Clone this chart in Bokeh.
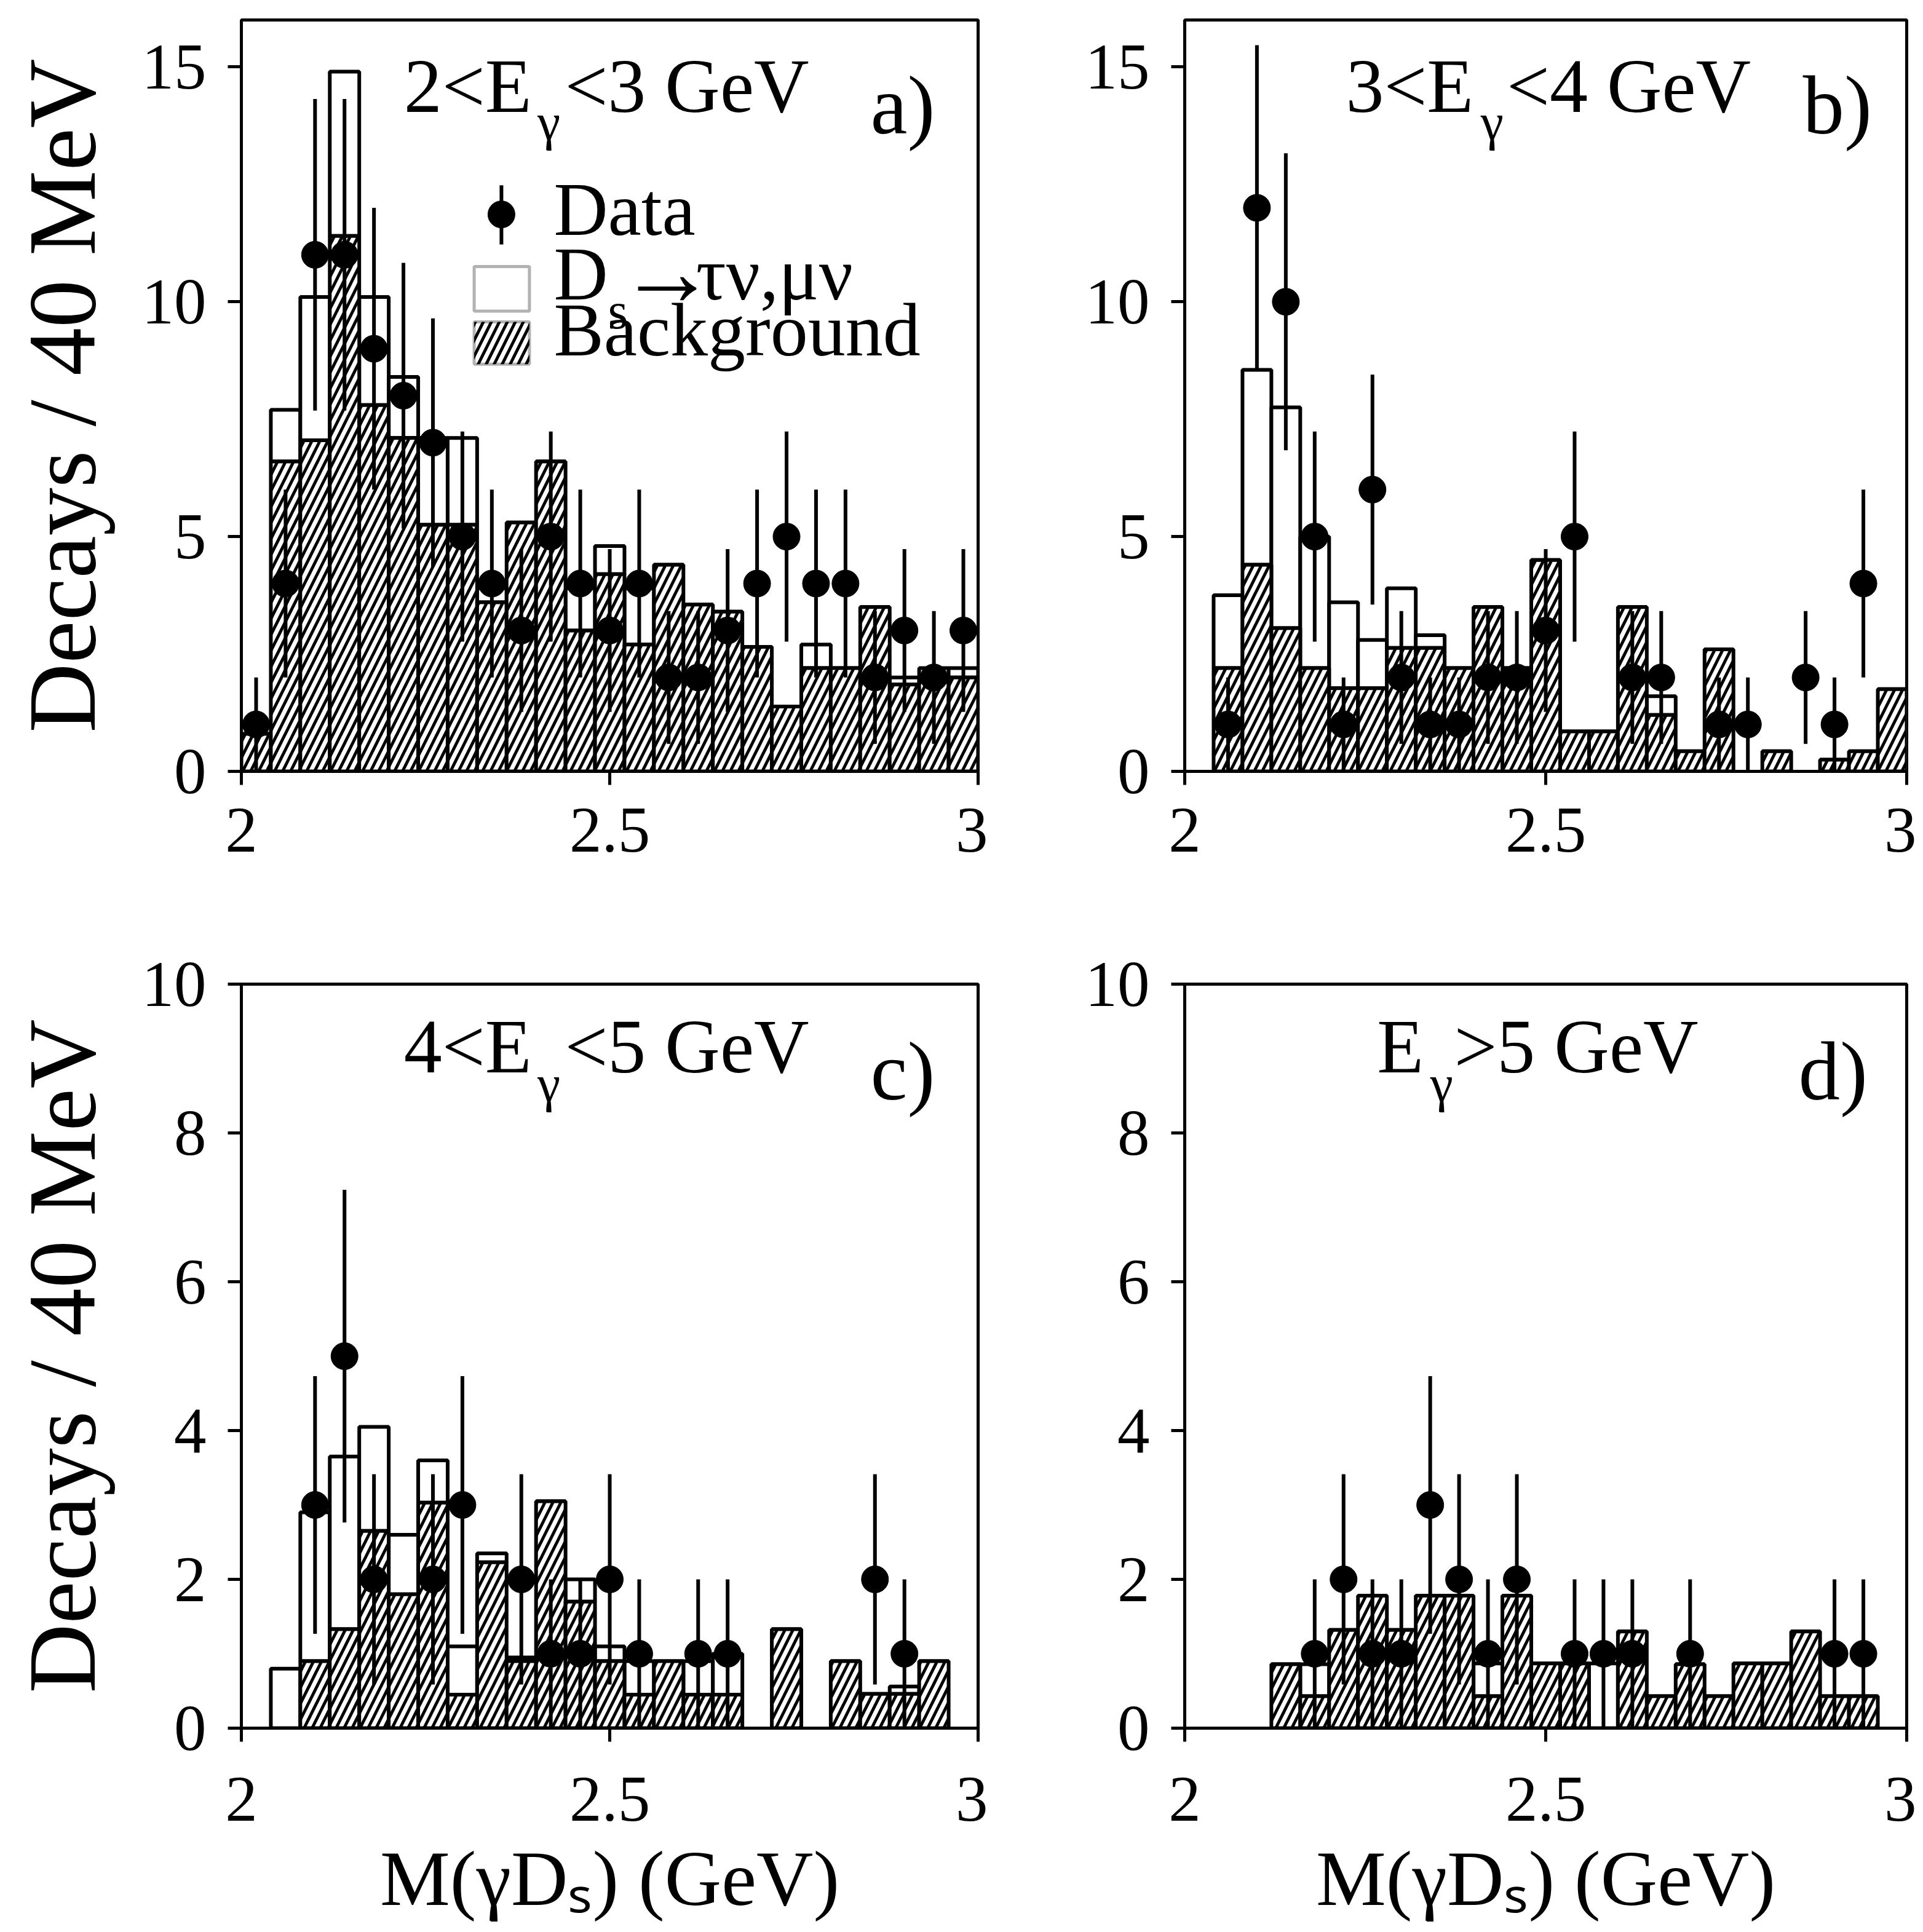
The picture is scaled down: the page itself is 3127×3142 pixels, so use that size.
import numpy as np
from bokeh.plotting import figure
from bokeh.models import Range1d, FixedTicker, Label, BoxAnnotation, ColumnDataSource
from bokeh.layouts import column, row
from bokeh.embed import file_html
from bokeh.resources import INLINE

# ---------------- data (40 MeV bins from 2.00 to 3.00 GeV) ----------------
bin_edges = [2.00, 2.04, 2.08, 2.12, 2.16, 2.20, 2.24, 2.28, 2.32, 2.36, 2.40, 2.44, 2.48,
             2.52, 2.56, 2.60, 2.64, 2.68, 2.72, 2.76, 2.80, 2.84, 2.88, 2.92, 2.96, 3.00]

# a) 2 < E_gamma < 3 GeV
a_data = [1, 4, 11, 11, 9, 8, 7, 5, 4, 3, 5, 4, 3, 4, 2, 2, 3, 4, 5, 4, 4, 2, 3, 2, 3]
a_total = [0.8, 7.7, 10.1, 14.9, 10.1, 8.4, 7.1, 7.1, 3.9, 5.3, 6.6, 3.9, 4.8, 3.9, 4.4,
           3.55, 3.4, 2.65, 1.38, 2.7, 2.2, 3.5, 2.0, 2.2, 2.2]
a_bkg = [0.8, 6.6, 7.05, 11.4, 7.8, 7.1, 5.25, 5.25, 3.6, 5.3, 6.6, 3.0, 4.2, 2.7, 4.4,
         3.55, 3.4, 2.65, 1.38, 2.2, 2.2, 3.5, 1.85, 1.9, 2.0]

# b) 3 < E_gamma < 4 GeV
b_data = [0, 1, 12, 10, 5, 1, 6, 2, 1, 1, 2, 2, 3, 5, 0, 2, 2, 0, 1, 1, 0, 2, 1, 4, 0]
b_total = [0, 3.75, 8.55, 7.75, 5.0, 3.6, 2.8, 3.9, 2.9, 2.2, 3.5, 2.2, 4.5, 0.85, 0.85,
           3.5, 1.6, 0.43, 2.6, 0, 0.43, 0, 0.25, 0.43, 1.75]
b_bkg = [0, 2.2, 4.4, 3.05, 2.2, 1.77, 1.77, 2.63, 2.63, 2.2, 3.5, 2.2, 4.5, 0.85, 0.85,
         3.5, 1.2, 0.43, 2.6, 0, 0.43, 0, 0.25, 0.43, 1.75]

# c) 4 < E_gamma < 5 GeV
c_data = [0, 0, 3, 5, 2, 0, 2, 3, 0, 2, 1, 1, 2, 1, 0, 1, 1, 0, 0, 0, 0, 2, 1, 0, 0]
c_total = [0, 0.8, 2.9, 3.65, 4.05, 2.6, 3.6, 1.1, 2.35, 0.95, 3.05, 2.0, 1.1, 0.9, 0.9,
           0.9, 1.0, 0, 1.33, 0, 0.9, 0.46, 0.56, 0.9, 0]
c_bkg = [0, 0, 0.9, 1.33, 2.65, 1.8, 3.03, 0.45, 2.23, 0.9, 3.05, 1.7, 0.9, 0.45, 0.9,
         0.45, 0.45, 0, 1.33, 0, 0.9, 0.46, 0.46, 0.9, 0]

# d) E_gamma > 5 GeV
d_data = [0, 0, 0, 0, 1, 2, 1, 1, 3, 2, 1, 2, 0, 1, 1, 1, 0, 1, 0, 0, 0, 0, 1, 1, 0]
d_total = [0, 0, 0, 0.86, 0.86, 1.32, 1.78, 1.32, 1.78, 1.78, 0.87, 1.78, 0.87, 0.87, 0.87,
           1.3, 0.43, 0.86, 0.43, 0.87, 0.87, 1.3, 0.43, 0.43, 0]
d_bkg = [0, 0, 0, 0.86, 0.43, 1.32, 1.78, 1.32, 1.78, 1.78, 0.43, 1.78, 0.87, 0.87, 0,
         1.3, 0.43, 0.86, 0.43, 0.87, 0.87, 1.3, 0.43, 0.43, 0]

# ticks and texts
x_tick_values = [2, 2.5, 3]
x_tick_labels = ["2", "2.5", "3"]
ab_y_ticks = [0, 5, 10, 15]
cd_y_ticks = [0, 2, 4, 6, 8, 10]
title_a = ("2<E", "γ", "<3 GeV")
title_b = ("3<E", "γ", "<4 GeV")
title_c = ("4<E", "γ", "<5 GeV")
title_d = ("E", "γ", ">5 GeV")
panel_letters = ["a)", "b)", "c)", "d)"]
y_label = "Decays / 40 MeV"
x_label = "M(γD\u209b) (GeV)"
legend_data_text = "Data"
legend_sig_parts = ("D", "s", "→", "τν,μν")
legend_bkg_text = "Background"

FONT = "Liberation Serif"
LW = 6
HATCH = dict(hatch_pattern="/", hatch_color="black", hatch_weight=5, hatch_scale=26)
BASE_SHIFT = 0.32   # empirical shift so that y is the alphabetic baseline


def add_text(p, x, y, text, size, ppu, align="left"):
    y_adj = y + BASE_SHIFT * size / ppu
    p.add_layout(Label(x=x, y=y_adj, text=text, text_font=FONT, text_font_size=f"{size}px",
                       text_align=align, text_baseline="alphabetic", text_color="black"))


def make_panel(counts, total, bkg, ymax, yticks, fw, fh, bl, br, bt, bb,
               show_ylabel, show_xlabel, xlab_standoff):
    p = figure(frame_width=fw, frame_height=fh, x_range=Range1d(2, 3), y_range=Range1d(0, ymax),
               output_backend="svg", toolbar_location=None,
               min_border_left=bl, min_border_right=br, min_border_top=bt, min_border_bottom=bb)
    p.grid.visible = False
    p.outline_line_color = "black"
    p.outline_line_width = 5
    p.outline_line_alpha = 1.0
    p.background_fill_color = "white"
    p.border_fill_color = "white"

    lo = np.array(bin_edges[:-1])
    hi = np.array(bin_edges[1:])
    tot = np.array(total, dtype=float)
    bk = np.array(bkg, dtype=float)
    n = np.array(counts, dtype=float)

    m = tot > 0
    p.quad(left="left", right="right", bottom="bottom", top="top",
           source=ColumnDataSource(dict(left=lo[m], right=hi[m], bottom=bk[m], top=tot[m])),
           fill_color="white", line_color="black", line_width=LW)
    mb = bk > 0
    p.quad(left="left", right="right", bottom=0, top="top",
           source=ColumnDataSource(dict(left=lo[mb], right=hi[mb], top=bk[mb])),
           fill_color="white", line_color="black", line_width=LW, **HATCH)

    centers = (lo + hi) / 2
    md = n > 0
    err = np.sqrt(n[md])
    p.segment(x0=centers[md], y0=n[md] - err, x1=centers[md], y1=n[md] + err,
              line_color="black", line_width=LW)
    p.scatter(centers[md], n[md], size=44, marker="circle", fill_color="black", line_color="black")

    p.xaxis.ticker = FixedTicker(ticks=x_tick_values)
    p.xaxis.major_label_overrides = dict(zip(x_tick_values, x_tick_labels))
    p.yaxis.ticker = FixedTicker(ticks=yticks)
    for ax in (p.xaxis[0], p.yaxis[0]):
        ax.axis_line_width = 5
        ax.axis_line_color = "black"
        ax.major_tick_line_width = 5
        ax.major_tick_line_color = "black"
        ax.major_tick_out = 22
        ax.major_tick_in = 0
        ax.minor_tick_out = 0
        ax.minor_tick_in = 0
        ax.major_label_text_font = FONT
        ax.major_label_text_font_size = "105px"
        ax.major_label_text_color = "black"
    p.xaxis.major_label_standoff = xlab_standoff
    p.yaxis.major_label_standoff = 35
    if show_ylabel:
        p.yaxis.axis_label = y_label
        p.yaxis.axis_label_text_font = FONT
        p.yaxis.axis_label_text_font_size = "156px"
        p.yaxis.axis_label_text_font_style = "normal"
        p.yaxis.axis_label_text_color = "black"
        p.yaxis.axis_label_standoff = 40
    if show_xlabel:
        p.xaxis.axis_label = x_label
        p.xaxis.axis_label_text_font = FONT
        p.xaxis.axis_label_text_font_size = "128px"
        p.xaxis.axis_label_text_font_style = "normal"
        p.xaxis.axis_label_text_color = "black"
        p.xaxis.axis_label_standoff = 20
    return p


def add_title(p, parts, x_end, x_sub, x_rest, y_main, y_sub, letter, x_letter, y_letter, ppu):
    add_text(p, x_end, y_main, parts[0], 124, ppu, "right")
    add_text(p, x_sub, y_sub, parts[1], 84, ppu, "left")
    add_text(p, x_rest, y_main, parts[2], 124, ppu, "left")
    add_text(p, x_letter, y_letter, letter, 135, ppu, "left")


# ---------------- panels ----------------
PPU_AB = 1222 / 16
PPU_CD = 1210 / 10
pa = make_panel(a_data, a_total, a_bkg, 16, ab_y_ticks, 1198, 1222, 392, 16, 32, 190, True, False, 38)
pb = make_panel(b_data, b_total, b_bkg, 16, ab_y_ticks, 1174, 1222, 320, 16, 32, 190, False, False, 38)
pc = make_panel(c_data, c_total, c_bkg, 10, cd_y_ticks, 1198, 1210, 392, 16, 156, 330, True, True, 58)
pd = make_panel(d_data, d_total, d_bkg, 10, cd_y_ticks, 1174, 1210, 320, 16, 156, 330, False, True, 58)

add_title(pa, title_a, 2.394, 2.402, 2.439, 14.06, 13.47, panel_letters[0], 2.854, 13.62, PPU_AB)
add_title(pb, title_b, 2.400, 2.410, 2.446, 14.06, 13.47, panel_letters[1], 2.856, 13.62, PPU_AB)
add_title(pc, title_c, 2.394, 2.402, 2.439, 8.83, 8.44, panel_letters[2], 2.854, 8.47, PPU_CD)
add_title(pd, title_d, 2.331, 2.340, 2.373, 8.83, 8.44, panel_letters[3], 2.850, 8.47, PPU_CD)

# legend (panel a)
pa.segment(x0=[2.353], y0=[11.22], x1=[2.353], y1=[12.48], line_color="black", line_width=LW)
pa.scatter([2.353], [11.86], size=44, marker="circle", fill_color="black", line_color="black")
pa.add_layout(BoxAnnotation(left=2.316, right=2.391, bottom=9.8, top=10.75,
                            fill_color="white", fill_alpha=1, line_color="black", line_width=5))
pa.add_layout(BoxAnnotation(left=2.316, right=2.391, bottom=8.67, top=9.57,
                            fill_color="white", fill_alpha=1, line_color="black", line_width=5,
                            **HATCH))
add_text(pa, 2.424, 11.45, legend_data_text, 122, PPU_AB)
add_text(pa, 2.424, 10.08, legend_sig_parts[0], 122, PPU_AB)
add_text(pa, 2.4975, 9.46, legend_sig_parts[1], 84, PPU_AB)
add_text(pa, 2.5110, 9.97, legend_sig_parts[2], 160, PPU_AB)
add_text(pa, 2.6170, 10.08, legend_sig_parts[3], 122, PPU_AB)
add_text(pa, 2.424, 8.89, legend_bkg_text, 122, PPU_AB)

layout = column(row(pa, pb), row(pc, pd))
open("out.html", "w").write(file_html(layout, INLINE))
